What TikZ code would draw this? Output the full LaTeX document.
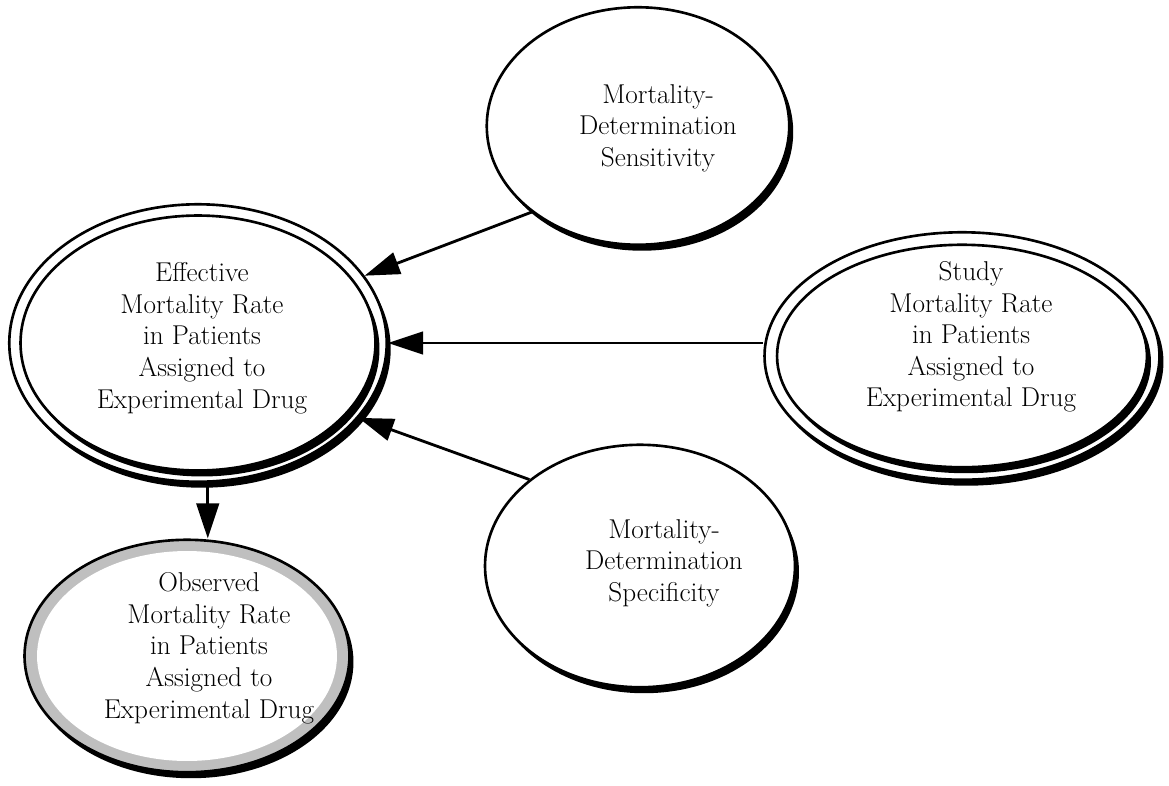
\documentclass[tikz,border=0pt]{standalone}
\usetikzlibrary{shapes.geometric,arrows.meta,shadows}
\begin{document}
\begin{tikzpicture}[x=0.02cm,y=-0.02cm,
  txt/.style={align=center, font=\fontsize{15.5}{18}\selectfont, inner sep=0pt},
  shade/.style={drop shadow={shadow xshift=0.08cm, shadow yshift=-0.12cm, fill=black, opacity=1}},
  oval/.style={ellipse, draw=black, line width=1.5pt, fill=white, inner sep=0pt, shade},
  link/.style={line width=1.6pt, -{Triangle[length=0.7cm,width=0.45cm]}}
]
\useasboundingbox (0,0) rectangle (1169,785);

% chance nodes
\node[oval, minimum width=6.05cm, minimum height=4.75cm] (sens) at (638,126) {};
\node[txt] (senst) at (658,128) {Mortality-\\Determination\\Sensitivity};

\node[oval, minimum width=6.2cm, minimum height=4.85cm] (spec) at (640,566) {};
\node[txt] (spect) at (664,563) {Mortality-\\Determination\\Specificity};

% deterministic nodes (double outline)
\node[oval, minimum width=7.55cm, minimum height=5.55cm] (eff) at (198,343) {};
\node[oval, minimum width=7.1cm, minimum height=5.1cm] (effin) at (eff) {};
\node[txt] (efft) at (202,338) {Effective\\Mortality Rate\\in Patients\\Assigned to\\Experimental Drug};

\node[oval, minimum width=7.9cm, minimum height=4.95cm] (study) at (962,356) {};
\node[oval, minimum width=7.4cm, minimum height=4.45cm] (studyin) at (study) {};
\node[txt] (studyt) at (971,337) {Study\\Mortality Rate\\in Patients\\Assigned to\\Experimental Drug};

% value node with shaded rim
\node[oval, fill=gray!50, minimum width=6.5cm, minimum height=4.65cm] (obs) at (187,656) {};
\node[ellipse, fill=white, inner sep=0pt, minimum width=6.0cm, minimum height=4.2cm] (obsin) at (obs) {};
\node[txt] (obst) at (209,648) {Observed\\Mortality Rate\\in Patients\\Assigned to\\Experimental Drug};

% influences
\draw[link] (sens.219) -- (eff.22);
\draw[link] (study.west |- eff.east) -- (eff.east);
\draw[link] (spec.142) -- (eff.335);
\draw[link] (eff.274) -- (eff.274 |- obs.north);
\end{tikzpicture}
\end{document}
